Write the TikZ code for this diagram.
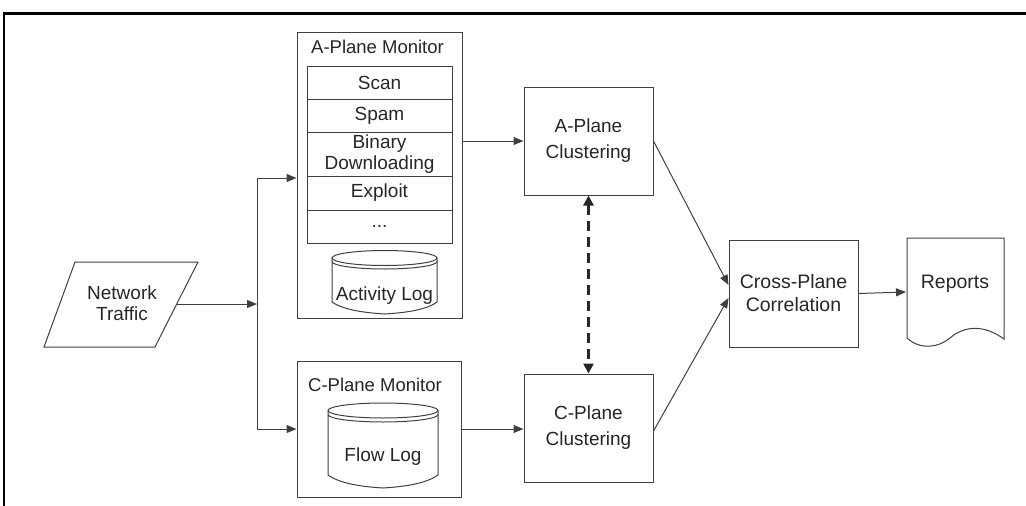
\documentclass[tikz,border=0pt]{standalone}
\usepackage{fontspec}
\setmainfont{Liberation Sans}
\usetikzlibrary{arrows.meta,calc}
\begin{document}
\begin{tikzpicture}[x=1pt,y=-1pt,
  ln/.style={draw=black!75,line width=1pt},
  arr/.style={ln,-{Triangle[length=10pt,width=8pt]}},
  box/.style={ln,rectangle,inner sep=0pt,align=center,text=black!85},
  lbl/.style={inner sep=0pt,align=center,text=black!85},
  big/.style={font=\fontsize{19}{26}\selectfont},
  mid/.style={font=\fontsize{19}{22}\selectfont},
  dasharr/.style={draw=black!85,line width=2.6pt,dash pattern=on 10pt off 6pt,
     {Triangle[length=10pt,width=10pt]}-{Triangle[length=10pt,width=10pt]}}
]
\useasboundingbox (0,0) rectangle (1026,506);
% frame
\draw[black,line width=3pt] (4,13) -- (1026,13);
\draw[black,line width=2pt] (4,12) -- (4,506);

% Network traffic parallelogram
\draw[ln] (75,262) -- (198,262) -- (155,347) -- (44,347) -- cycle;
\node[lbl,font=\fontsize{19}{21}\selectfont] (nt) at (122,303) {Network\\Traffic};
\coordinate (ntout) at (177,304);

% A-Plane monitor
\node[box,minimum width=165pt,minimum height=286pt] (amon) at (379.5,175) {};
\node[lbl,font=\fontsize{18.5}{22}\selectfont] (atitle) at (377.5,47) {A-Plane Monitor};
\node[box,mid,minimum width=145pt,minimum height=33pt] (scan) at (379.5,82.5) {Scan};
\node[box,mid,minimum width=145pt,minimum height=33pt] (spam) at (379.5,115.5) {Spam};
\node[box,font=\fontsize{19}{21}\selectfont,minimum width=145pt,minimum height=44pt] (bin) at (379.5,154) {Binary\\Downloading};
\node[box,mid,minimum width=145pt,minimum height=34pt] (expl) at (379.5,193) {Exploit};
\node[box,mid,minimum width=145pt,minimum height=33pt] (dots) at (379.5,226.5) {...};

% Activity log cylinder
\draw[ln] (384.5,258) ellipse [x radius=52.5, y radius=7.5];
\draw[ln] (332,261.5) arc[start angle=180,end angle=0,x radius=52.5,y radius=7.5];
\draw[ln] (332,258) -- (332,302) .. controls (345,311) and (370,313) .. (384.5,314)
   .. controls (400,313) and (425,311) .. (437,302) -- (437,258);
\node[lbl,mid] (alog) at (384.5,296) {Activity Log};

% C-Plane monitor
\node[box,minimum width=164pt,minimum height=136pt] (cmon) at (379,429) {};
\node[lbl,font=\fontsize{18.5}{22}\selectfont] (ctitle) at (375,385) {C-Plane Monitor};
\draw[ln] (383,410.5) ellipse [x radius=55, y radius=7.5];
\draw[ln] (328,414.5) arc[start angle=180,end angle=0,x radius=55,y radius=7.5];
\draw[ln] (328,410.5) -- (328,475) .. controls (342,485) and (368,487) .. (383,488)
   .. controls (398,487) and (424,485) .. (438,475) -- (438,410.5);
\node[lbl,mid] (flog) at (383,457) {Flow Log};

% Clustering
\node[box,big,minimum width=129pt,minimum height=108pt] (aclust) at (588.5,141) {A-Plane\\Clustering};
\node[box,big,minimum width=129pt,minimum height=108pt] (cclust) at (588.5,428) {C-Plane\\Clustering};

% Cross-plane
\node[box,font=\fontsize{19.5}{23}\selectfont,minimum width=129pt,minimum height=107pt] (cross) at (793.5,293.5) {Cross-Plane\\Correlation};

% Reports document
\draw[ln] (907,338) -- (907,238) -- (1004,238) -- (1004,339)
  .. controls (985,325) and (965,325) .. (950,338)
  .. controls (938,348) and (920,350) .. (907,338);
\node[lbl,font=\fontsize{19.5}{23}\selectfont] (rep) at (955,284) {Reports};
\coordinate (repin) at (906,292);

% connectors
\coordinate (ja) at (257,178);
\coordinate (jc) at (257,429);
\draw[ln] (ja) -- (jc);
\draw[arr] (ntout) -- (ntout -| ja);
\draw[arr] (ja) -- (ja -| amon.west);
\draw[arr] (jc) -- (jc -| cmon.west);
\draw[arr] (aclust.west -| amon.east) -- (aclust.west);
\draw[arr] (cmon.east) -- (cmon.east -| cclust.west);
\draw[dasharr] (aclust.south) -- (cclust.north);
\draw[arr] (aclust.east) -- ($(cross.west)+(0,-8.5)$);
\draw[arr] ($(cclust.east)+(0,3)$) -- ($(cross.west)+(0,4.5)$);
\draw[arr] (cross.east) -- (repin);
\end{tikzpicture}
\end{document}
